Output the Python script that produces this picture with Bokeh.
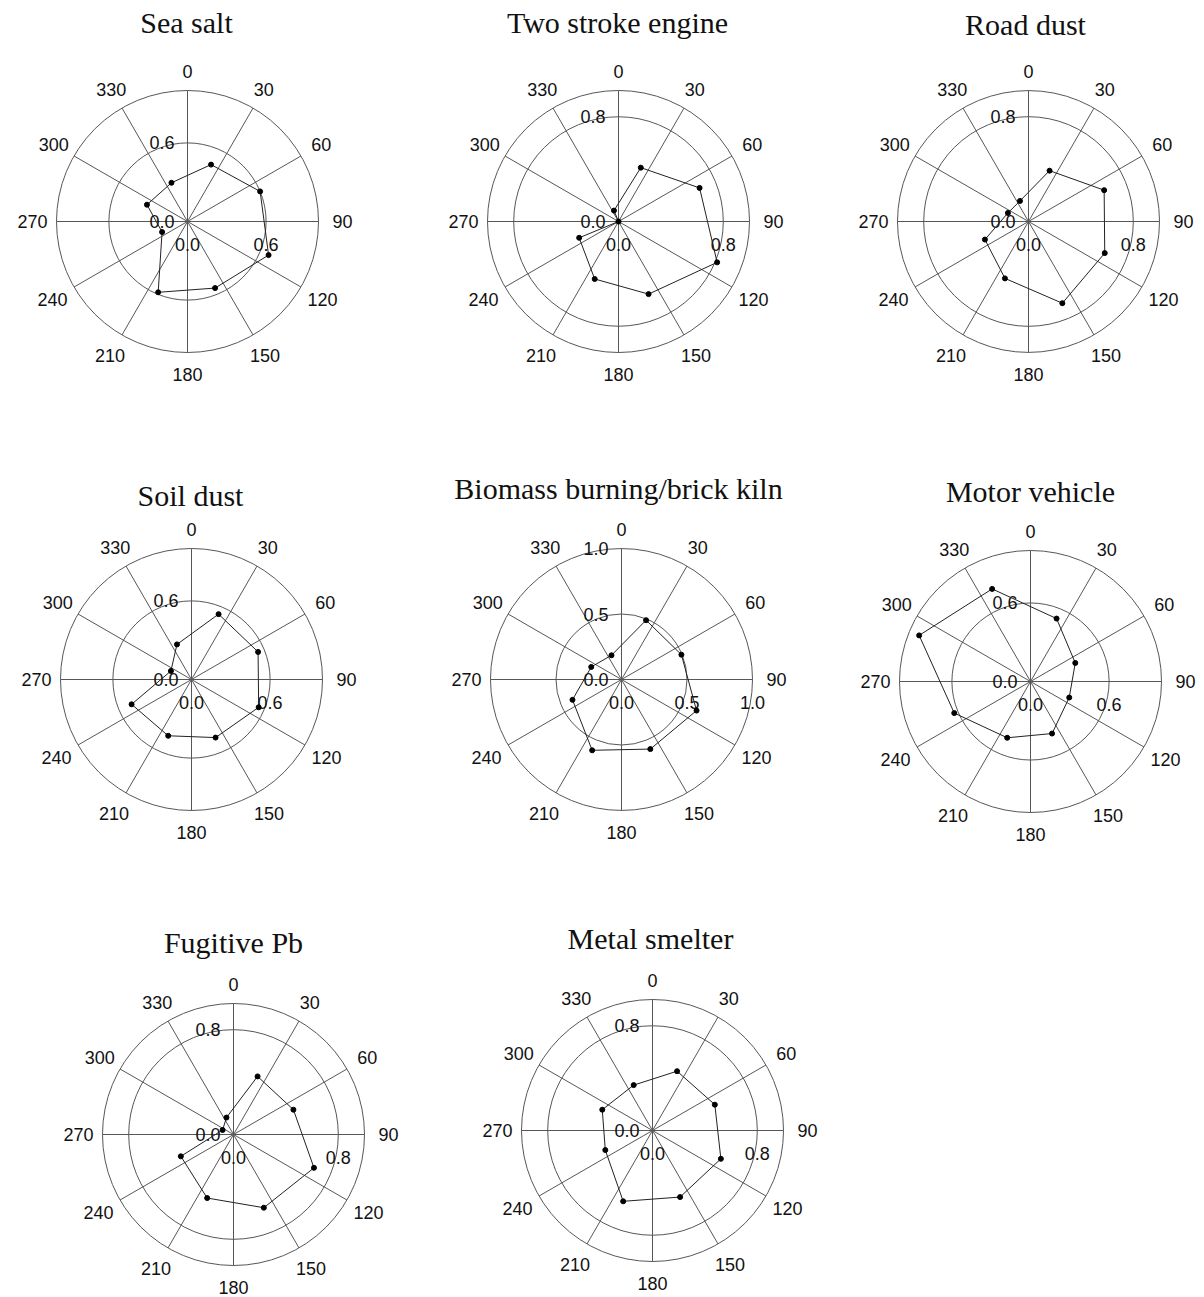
import math
from bokeh.plotting import figure
from bokeh.models import Range1d
from bokeh.core.properties import value
from bokeh.embed import file_html
from bokeh.resources import INLINE

# ---------------- data ----------------
directions = [22.5, 67.5, 112.5, 157.5, 202.5, 247.5, 292.5, 337.5]
angle_ticks = [0, 30, 60, 90, 120, 150, 180, 210, 240, 270, 300, 330]

titles = ["Sea salt", "Two stroke engine", "Road dust", "Soil dust",
          "Biomass burning/brick kiln", "Motor vehicle", "Fugitive Pb", "Metal smelter"]

sea_salt      = [0.47, 0.60, 0.67, 0.55, 0.585, 0.21, 0.335, 0.32]
two_stroke    = [0.445, 0.67, 0.815, 0.60, 0.475, 0.325, 0.0, 0.09]
road_dust     = [0.42, 0.625, 0.63, 0.675, 0.47, 0.36, 0.17, 0.17]
soil_dust     = [0.54, 0.55, 0.555, 0.48, 0.465, 0.495, 0.17, 0.29]
biomass       = [0.49, 0.495, 0.62, 0.575, 0.585, 0.405, 0.25, 0.20]
motor_vehicle = [0.52, 0.37, 0.32, 0.43, 0.465, 0.63, 0.92, 0.765]
fugitive_pb   = [0.48, 0.495, 0.665, 0.605, 0.525, 0.435, 0.09, 0.14]
metal_smelter = [0.49, 0.515, 0.565, 0.55, 0.585, 0.39, 0.415, 0.375]

series = [sea_salt, two_stroke, road_dust, soil_dust, biomass, motor_vehicle, fugitive_pb, metal_smelter]
radial_max = [1.0, 1.0, 1.0, 1.0, 1.0, 1.0, 1.0, 1.0]
radial_step = [0.6, 0.8, 0.8, 0.6, 0.5, 0.6, 0.8, 0.8]

# ---------------- layout (page pixels) ----------------
centers = [(187, 221), (618, 221), (1028, 221),
           (191, 679), (621, 679), (1030, 681),
           (233, 1134), (652, 1130)]
title_pos = [(186, 22), (617, 22), (1025, 24),
             (190, 495), (618, 488), (1030, 491),
             (233, 942), (650, 938)]
R = 131.0

W, H = 1204, 1297
p = figure(width=W, height=H, output_backend="svg", toolbar_location=None,
           x_range=Range1d(0, W), y_range=Range1d(H, 0),
           min_border=0)
p.axis.visible = False
p.grid.visible = False
p.outline_line_color = None
p.background_fill_color = "white"
p.border_fill_color = "white"

SANS = value("Liberation Sans")
SERIF = value("Liberation Serif")
GRID = "#575757"

for i in range(8):
    cx, cy = centers[i]
    vmax = radial_max[i]
    step = radial_step[i]
    scale = R / vmax

    # tick values
    ticks = []
    t = 0.0
    while t <= vmax + 1e-9:
        ticks.append(round(t, 3))
        t += step

    # circles (non-zero ticks + outer)
    circ_r = sorted(set([tk for tk in ticks if tk > 0] + [vmax]))
    p.circle(x=[cx] * len(circ_r), y=[cy] * len(circ_r),
             radius=[c * scale for c in circ_r],
             fill_color=None, line_color=GRID, line_width=1)

    # spokes
    xs, ys = [], []
    for a in angle_ticks:
        th = math.radians(a)
        xs.append([cx, cx + R * math.sin(th)])
        ys.append([cy, cy - R * math.cos(th)])
    p.multi_line(xs, ys, line_color=GRID, line_width=1)

    # angle labels
    lx, ly, lt = [], [], []
    for a in angle_ticks:
        th = math.radians(a)
        rr = R + 19 + 5 * abs(math.sin(th)) + 3 * max(0.0, -math.cos(th))
        lx.append(cx + rr * math.sin(th))
        ly.append(cy - rr * math.cos(th))
        lt.append(str(a))
    p.text(x=lx, y=ly, text=lt, text_font=SANS, text_font_size="18px",
           text_align="center", text_baseline="middle", text_color="#111111")

    # radial labels: vertical axis (left of center, upward)
    p.text(x=[cx - 13] * len(ticks), y=[cy - tk * scale for tk in ticks],
           text=["%.1f" % tk for tk in ticks], text_font=SANS, text_font_size="18px",
           text_align="right", text_baseline="middle", text_color="#111111")
    # radial labels: horizontal axis (below center, rightward)
    p.text(x=[cx + tk * scale for tk in ticks], y=[cy + 16] * len(ticks),
           text=["%.1f" % tk for tk in ticks], text_font=SANS, text_font_size="18px",
           text_align="center", text_baseline="top", text_color="#111111")

    # data polygon
    vals = series[i]
    px = [cx + v * scale * math.sin(math.radians(d)) for v, d in zip(vals, directions)]
    py = [cy - v * scale * math.cos(math.radians(d)) for v, d in zip(vals, directions)]
    p.line(px + [px[0]], py + [py[0]], line_color="#222222", line_width=1)
    p.scatter(px, py, size=5, marker="circle", fill_color="black", line_color="black")

    # title
    tx, ty = title_pos[i]
    p.text(x=[tx], y=[ty], text=[titles[i]], text_font=SERIF, text_font_size="30px",
           text_align="center", text_baseline="middle", text_color="#111111")

open("out.html", "w").write(file_html(p, INLINE))
